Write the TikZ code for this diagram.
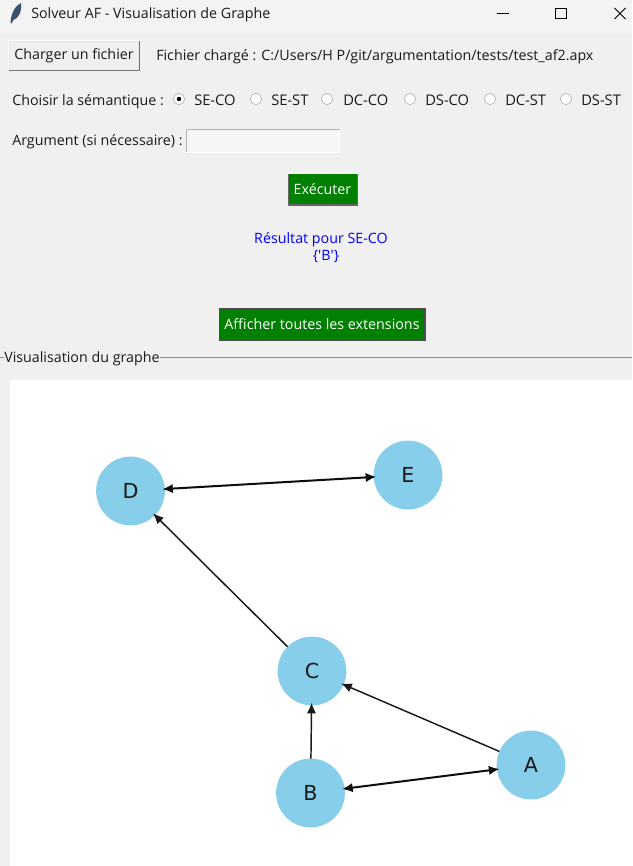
\documentclass[tikz,border=0pt]{standalone}
\usepackage{fontspec}
\setmainfont{Open Sans}
\newfontfamily\graphfont{DejaVu Sans}
\newfontfamily\resfont[Ligatures=Common]{Open Sans}
\usetikzlibrary{arrows.meta}
\definecolor{winbg}{HTML}{F0F0F0}
\definecolor{titlebg}{HTML}{F3F3F3}
\definecolor{txt}{HTML}{1A1A1A}
\definecolor{greenbtn}{HTML}{008000}
\definecolor{sky}{HTML}{87CEEB}
\definecolor{feather}{HTML}{3A5070}
\tikzset{
  x=0.75pt,y=-0.75pt,
  lbl/.style={inner sep=0pt,text=txt,font=\fontsize{10.7}{13}\selectfont,anchor=base west},
  rlbl/.style={lbl,font=\fontsize{11}{13}\selectfont},
  graybtn/.style={draw=none,text=txt,font=\fontsize{10.7}{13}\selectfont,inner sep=0pt,anchor=center},
  greenb/.style={fill=greenbtn,text=white,font=\fontsize{10.7}{13}\selectfont,inner sep=0pt,anchor=center},
  radiob/.style={circle,fill=white,draw=black!30,line width=0.5pt,minimum size=8.5pt,inner sep=0pt},
  graphnode/.style={circle,fill=sky,inner sep=0pt,outer sep=0pt,minimum size=51.6pt,text=black!90,font=\graphfont\fontsize{15.5}{18}\selectfont},
  edge/.style={draw=black!90,line width=1.1pt,shorten >=-2pt,-{Latex[length=8pt,width=7pt]}},
  biedge/.style={draw=black!95,line width=1.5pt,shorten >=-2pt,shorten <=-2pt,{Latex[length=8pt,width=7pt]}-{Latex[length=8pt,width=7pt]}}
}
\begin{document}
\begin{tikzpicture}
\useasboundingbox (0,0) rectangle (632,866);
\fill[winbg] (0,0) rectangle (632,866);
\fill[titlebg] (0,0) rectangle (632,33);
% title bar
\fill[feather] (10.5,23) .. controls (11,13) and (15,6) .. (21,3) .. controls (22,11) and (19,18) .. (13.5,20) -- (11.5,23.5) -- cycle;
\node[lbl] (title) at (31,19) {Solveur AF - Visualisation de Graphe};
\draw[black,line width=0.6pt] (497,13.5) -- (509,13.5);
\draw[black,line width=0.75pt] (555.5,8.5) rectangle (566.5,19);
\draw[black,line width=0.6pt] (614.5,8) -- (625.5,19) (625.5,8) -- (614.5,19);
% load button
\fill[white] (8,40) rectangle (140,71);
\fill[black!55] (9,41) rectangle (140,71);
\fill[winbg!95!black] (9,41) rectangle (139,70);
\node[graybtn,fill=winbg,minimum width=96pt,minimum height=20.5pt] (load) at (74,56) {Charger un fichier};
\node[lbl] (file) at (156,61) {Fichier chargé : C:/Users/H P/git/argumentation/tests/test\_af2.apx};
% semantics
\node[lbl] (choose) at (12,105.5) {Choisir la sémantique :};
\node[radiob] (r1) at (179,99) {};
\fill[black] (r1) circle (2.2);
\node[rlbl] (t1) at (194,105.5) {SE-CO};
\node[radiob] (r2) at (256,99) {};
\node[rlbl] (t2) at (271,105.5) {SE-ST};
\node[radiob] (r3) at (327,99) {};
\node[rlbl] (t3) at (343,105.5) {DC-CO};
\node[radiob] (r4) at (410,99) {};
\node[rlbl] (t4) at (425,105.5) {DS-CO};
\node[radiob] (r5) at (490,99) {};
\node[rlbl] (t5) at (505,105.5) {DC-ST};
\node[radiob] (r6) at (566,99) {};
\node[rlbl] (t6) at (581,105.5) {DS-ST};
% argument
\node[lbl] (arg) at (12,146) {Argument (si nécessaire) :};
\draw[draw=white,line width=0.75pt,fill=winbg!60!white] (186,130) rectangle (339.5,152.5);
\draw[black!30,line width=0.75pt] (186,152.5) -- (186,130) -- (339.5,130);
% execute
\fill[black!60] (288,174) rectangle (358,206);
\node[greenb,minimum width=51pt,minimum height=22.5pt] (exec) at (322.5,189.5) {Exécuter};
% result
\node[inner sep=0pt,text=blue,align=center,font=\resfont\fontsize{10.7}{12.5}\selectfont] (res) at (321,247.5) {Résultat pour SE-CO\\\hspace*{0.7em}\{'B'\}};
% show all
\fill[black!70] (219,308) rectangle (426,341);
\node[greenb,minimum width=153pt,minimum height=23.2pt] (all) at (322,324) {Afficher toutes les extensions};
% frame
\draw[black!45,line width=0.75pt] (0,357.5) -- (632,357.5);
\node[lbl,fill=winbg,anchor=west,inner xsep=0pt,text height=8pt,text depth=2pt] (frame) at (4,358) {Visualisation du graphe};
% canvas
\fill[white] (10,380) rectangle (632,866);
% graph
\node[graphnode] (D) at (130.5,491) {D};
\node[graphnode] (E) at (408,475) {E};
\node[graphnode] (C) at (312,671) {C};
\node[graphnode] (B) at (310.5,793) {B};
\node[graphnode] (A) at (531,765) {A};
\draw[biedge] (D) -- (E);
\draw[edge] (C) -- (D);
\draw[edge] (B) -- (C);
\draw[edge] (A) -- (C);
\draw[biedge] (B) -- (A);
\end{tikzpicture}
\end{document}
